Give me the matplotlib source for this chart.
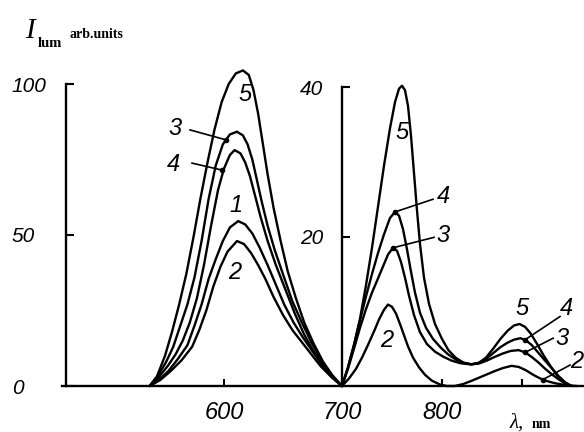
import numpy as np
import matplotlib
matplotlib.use("Agg")
import matplotlib.pyplot as plt

# 610 nm band, left scale (arb. units 0-100)
wl_a5 = [537, 543, 550, 556, 562, 568, 574, 580, 586, 592, 598, 604, 610, 616, 621, 625, 629, 633, 637, 642, 648, 654, 661, 668, 676, 684, 692, 700]
I_a5 = [0, 3, 10, 18, 27, 37, 49, 62, 74, 85, 94, 100, 103.5, 104.5, 103, 98, 90, 80, 70, 59, 48, 38, 29, 21, 14, 8, 3.5, 0]
wl_a3 = [537, 545, 551, 557, 563, 569, 575, 581, 587, 593, 599, 605, 611, 616, 620, 624, 628, 632, 637, 643, 650, 658, 666, 674, 682, 690, 700]
I_a3 = [0, 4, 8, 13, 20, 27, 36, 48, 62, 73, 80, 83.3, 84.2, 83, 80, 75, 68, 61, 53, 45, 37, 28, 21, 14.5, 9, 4, 0]
wl_a4 = [537, 545, 553, 559, 565, 571, 577, 583, 589, 595, 600, 605, 609, 614, 618, 622, 626, 631, 637, 644, 652, 660, 668, 676, 684, 692, 700]
I_a4 = [0, 3, 7, 10.5, 15, 21, 29, 40, 53, 65, 72, 76.5, 78.1, 77, 74, 69.5, 63.5, 56, 48, 40, 32, 24, 17, 11.5, 7, 3, 0]
wl_a1 = [537, 545, 553, 561, 569, 575, 581, 587, 593, 599, 605, 612, 618, 624, 630, 637, 644, 651, 659, 667, 675, 683, 691, 700]
I_a1 = [0, 2, 5, 9, 13.5, 20, 27, 35.5, 42, 48, 52.5, 54.6, 53.5, 50.5, 46, 40, 33.5, 27, 21, 16, 11.5, 7, 3, 0]
wl_a2 = [537, 546, 555, 564, 573, 579, 585, 591, 597, 603, 611, 617, 623, 629, 635, 642, 650, 658, 666, 674, 682, 691, 700]
I_a2 = [0, 2, 5, 8.5, 13, 18.5, 25, 33, 39.5, 44.5, 48, 47, 44, 40, 35.5, 29.5, 23.5, 18.5, 14.5, 10.5, 6.5, 3, 0]

# 750 nm and 890 nm bands, right scale (arb. units 0-40)
wl_b5 = [700, 706, 712, 718, 724, 730, 736, 742, 748, 753, 757, 760, 763, 766, 769, 772, 775, 778, 782, 787, 793, 800, 808, 817, 827, 837, 846, 855, 864, 873, 882, 890, 897, 904, 911, 919, 927, 936, 944, 951, 957]
I_b5 = [0, 2.5, 5.5, 9, 13.5, 18.5, 24, 29.5, 34.5, 38, 39.8, 40.2, 39.6, 37.5, 33.5, 28.5, 23.5, 19, 14.5, 11, 8.3, 6.3, 4.8, 3.8, 3.1, 2.9, 3.1, 3.8, 5, 6.3, 7.4, 8.1, 8.3, 7.9, 7, 5.6, 4.1, 2.6, 1.4, 0.6, 0]
wl_b4 = [700, 706, 712, 718, 724, 730, 736, 742, 748, 753, 757, 761, 765, 769, 773, 778, 784, 791, 799, 808, 818, 828, 837, 846, 855, 864, 873, 882, 890, 898, 905, 912, 920, 928, 937, 946, 954, 962]
I_b4 = [0, 2.5, 5.5, 8.8, 12, 15, 17.8, 20.3, 22.5, 23.3, 22.8, 21, 18.3, 15.3, 12.5, 9.8, 7.8, 6.3, 5.1, 4.2, 3.5, 3.1, 2.9, 3.1, 3.6, 4.4, 5.2, 5.8, 6.2, 6.4, 6.1, 5.5, 4.5, 3.5, 2.4, 1.3, 0.5, 0]
wl_b3 = [700, 706, 712, 718, 724, 730, 736, 741, 746, 751, 755, 759, 763, 767, 772, 778, 785, 793, 802, 812, 823, 835, 846, 856, 866, 876, 886, 896, 904, 912, 920, 929, 938, 947, 955, 963]
I_b3 = [0, 2.3, 5, 7.8, 10.3, 12.5, 14.4, 16, 17.6, 18.5, 18.1, 16.6, 14.5, 12.1, 9.5, 7.2, 5.6, 4.6, 3.9, 3.4, 3.05, 2.9, 3.0, 3.4, 3.9, 4.35, 4.7, 4.8, 4.5, 3.9, 3.2, 2.3, 1.5, 0.8, 0.3, 0]
wl_b2 = [700, 707, 714, 720, 726, 732, 737, 742, 746, 750, 754, 758, 762, 766, 771, 777, 783, 790, 798, 806, 816, 826, 836, 846, 856, 866, 876, 887, 896, 905, 914, 922, 930, 940, 950, 960, 969]
I_b2 = [0, 1, 2.3, 3.8, 5.5, 7.3, 8.9, 10.2, 10.9, 10.6, 9.7, 8.3, 6.8, 5.3, 3.8, 2.5, 1.5, 0.7, 0.2, 0, 0, 0.25, 0.65, 1.1, 1.55, 2, 2.4, 2.7, 2.55, 2.1, 1.5, 1.05, 0.7, 0.4, 0.2, 0.05, 0]

# hand drawn wavelength axis is not linear: tick wavelength -> pixel column
knot_wl = np.array([400, 600, 700, 800, 900, 1000])
knot_px = np.array([-12, 224, 342, 442, 522, 602])
W, H = 584, 432
y0 = 386  # pixel row of the zero line

def fwd(x):
    return np.interp(x, knot_wl, knot_px)

def inv(p):
    return np.interp(p, knot_px, knot_wl)

num_font = ['Liberation Sans', 'DejaVu Sans']

fig = plt.figure(figsize=(W / 100, H / 100), dpi=100)
ax = fig.add_axes([0, 0, 1, 1])
ax.set_xscale('function', functions=(fwd, inv))
ax.set_xlim(inv(0), inv(W))
ax.set_ylim(-(H - y0) / 3.02, y0 / 3.02)
ax2 = ax.twinx()
ax2.set_ylim(-(H - y0) / 7.47, y0 / 7.47)

lw = 1.7
for wl, I in [(wl_a5, I_a5), (wl_a3, I_a3), (wl_a4, I_a4), (wl_a1, I_a1), (wl_a2, I_a2)]:
    ax.plot(wl, I, color='black', lw=lw, solid_joinstyle='round', solid_capstyle='round')
for wl, I in [(wl_b5, I_b5), (wl_b4, I_b4), (wl_b3, I_b3), (wl_b2, I_b2)]:
    ax2.plot(wl, I, color='black', lw=lw, solid_joinstyle='round', solid_capstyle='round')

# axes drawn like the hand made frame
for s in ['top', 'right']:
    ax.spines[s].set_visible(False)
for s in ['top', 'right', 'bottom']:
    ax2.spines[s].set_visible(False)
ax.spines['left'].set_position(('data', inv(66)))
ax.spines['left'].set_bounds(0, 100)
ax.spines['bottom'].set_position(('data', 0))
ax.spines['bottom'].set_bounds(inv(62), inv(W))
ax2.spines['left'].set_visible(True)
ax2.spines['left'].set_position(('data', 700))
ax2.spines['left'].set_bounds(0, 40)
for sp in [ax.spines['left'], ax.spines['bottom'], ax2.spines['left']]:
    sp.set_linewidth(1.7)

ax.set_yticks([0, 50, 100], ['0', '50', '100'])
ax.tick_params(axis='y', direction='in', length=6, width=1.5, pad=39, labelsize=15)
for t in ax.get_yticklabels():
    t.set_ha('left')
    t.set_family(num_font)
    t.set_style('italic')
ax.set_xticks([600, 700, 800, 900], ['600', '700', '800', ''])
ax.tick_params(axis='x', direction='in', length=5, width=1.5, pad=11, labelsize=17)
for t in ax.get_xticklabels():
    t.set_family(num_font)
    t.set_style('italic')

ax2.yaxis.tick_left()
ax2.set_yticks([20, 40], ['20', '40'])
ax2.tick_params(axis='y', direction='in', length=6, width=1.5, pad=30, labelsize=15)
for t in ax2.get_yticklabels():
    t.set_ha('left')
    t.set_family(num_font)
    t.set_style('italic')

# curve numbers
txt = dict(fontsize=17, family=num_font, style='italic', ha='center', va='center')
for x, y, s in [(617.8, 96.4, '5'), (558.5, 85.4, '3'), (556.8, 73.5, '4'), (610.2, 59.9, '1'), (609.3, 37.7, '2')]:
    ax.text(x, y, s, **txt)
for x, y, s in [(760, 34.0, '5'), (801.5, 25.4, '4'), (801.5, 20.1, '3'), (745, 6.1, '2'),
                (900, 10.4, '5'), (956, 10.4, '4'), (950, 6.4, '3'), (969, 3.3, '2')]:
    ax2.text(x, y, s, **txt)

# leader lines with a dot on the curve
for (x1, y1), (x2, y2) in [((571.2, 84.8), (601.7, 81.5)), ((572.9, 73.8), (598.3, 71.5))]:
    ax.plot([x1, x2], [y1, y2], color='black', lw=1.2)
    ax.plot([x2], [y2], 'o', color='black', ms=3)
for (x1, y1), (x2, y2) in [((791, 25.0), (753, 23.3)), ((792, 19.9), (751, 18.5)),
                           ((947.5, 9.3), (904, 6.2)), ((939, 6.4), (904, 4.5)), ((960, 2.8), (926, 0.85))]:
    ax2.plot([x1, x2], [y1, y2], color='black', lw=1.2)
    ax2.plot([x2], [y2], 'o', color='black', ms=3)

# axis titles
fig.text(30 / W, 1 - 31 / H, 'I', fontsize=21, family='Liberation Serif', style='italic', ha='center', va='center')
fig.text(38 / W, 1 - 47 / H, 'lum', fontsize=10.5, family='Liberation Serif', weight='bold', ha='left', va='baseline')
fig.text(70 / W, 1 - 38 / H, 'arb.units', fontsize=10, family='Liberation Serif', weight='bold', ha='left', va='baseline')
fig.text(517 / W, 1 - 423 / H, 'λ,', fontsize=15, family='Liberation Serif', style='italic', ha='center', va='center')
fig.text(532 / W, 1 - 428 / H, 'nm', fontsize=10, family='Liberation Serif', weight='bold', ha='left', va='baseline')

fig.savefig('out.png', dpi=100)
